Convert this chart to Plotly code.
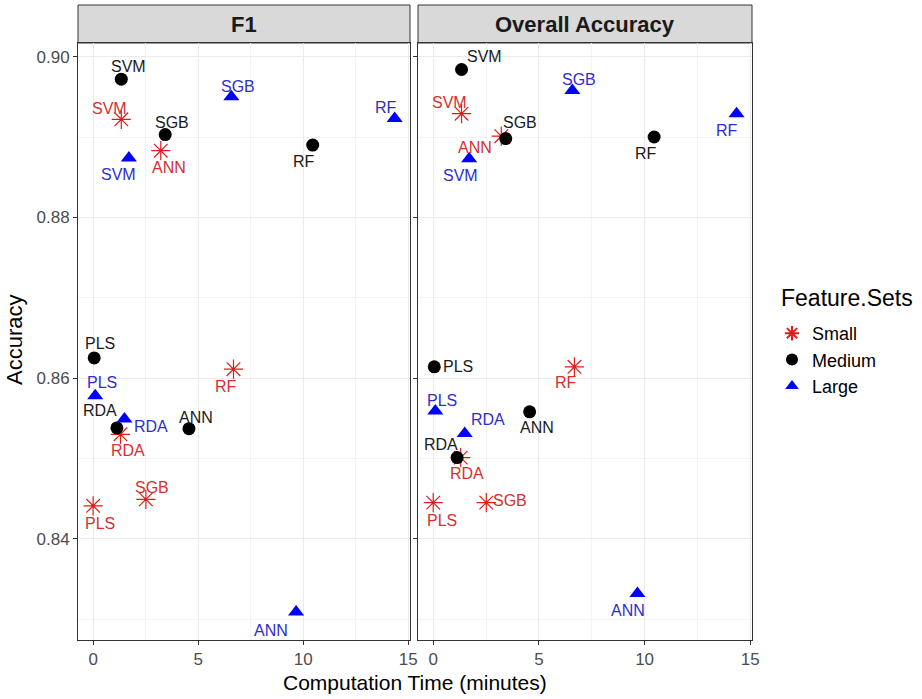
import plotly.graph_objects as go

# ---------------- data ----------------
models = ["PLS", "RDA", "ANN", "SVM", "SGB", "RF"]
feature_sets = ["Small", "Medium", "Large"]
panels = ["F1", "Overall Accuracy"]

time_small = [0.0, 1.30, 3.22, 1.34, 2.51, 6.68]
time_medium = [0.05, 1.13, 4.56, 1.34, 3.43, 10.45]
time_large = [0.10, 1.49, 9.66, 1.70, 6.58, 14.35]

f1_small = [0.8441, 0.8530, 0.8883, 0.8922, 0.8449, 0.8611]
f1_medium = [0.8625, 0.8538, 0.8537, 0.8972, 0.8903, 0.8890]
f1_large = [0.8578, 0.8549, 0.8309, 0.8874, 0.8950, 0.8923]

oa_small = [0.8445, 0.8501, 0.8901, 0.8929, 0.8445, 0.8614]
oa_medium = [0.8614, 0.8501, 0.8558, 0.8984, 0.8898, 0.8900]
oa_large = [0.8559, 0.8531, 0.8332, 0.8873, 0.8958, 0.8929]

x_ticks = [0, 5, 10, 15]
y_ticks = [0.84, 0.86, 0.88, 0.90]

# ---------------- styles ----------------
marker_style = {
    "Small": dict(symbol="asterisk-open", size=16, color="#E01B1B",
                  line=dict(color="#E01B1B", width=1.2)),
    "Medium": dict(symbol="circle", size=13, color="black"),
    "Large": dict(symbol="triangle-up", size=14, color="#0000FF"),
}
text_color = {"Small": "#D43030", "Medium": "#1A1A1A", "Large": "#2E2ECC"}

# label offsets (pixels: dx right, dy down) per panel / set / model
label_offsets = {
    "F1": {
        "Small": [(7, 18), (8, 16), (8, 17), (-12, -11), (6, -12), (-7, 17)],
        "Medium": [(6, -14), (-17, -17), (7, -11), (7, -13), (7, -12), (-9, 16)],
        "Large": [(7, -13), (27, 7), (-25, 19), (-10, 17), (7, -10), (-9, -11)],
    },
    "Overall Accuracy": {
        "Small": [(9, 18), (6, 16), (-26, 11), (-12, -11), (24, -2), (-8, 16)],
        "Medium": [(24, 0), (-16, -13), (7, 16), (23, -13), (14, -16), (-8, 16)],
        "Large": [(7, -11), (23, -14), (-9, 17), (-9, 17), (7, -11), (-10, 17)],
    },
}

times = {"Small": time_small, "Medium": time_medium, "Large": time_large}
values = {
    "F1": {"Small": f1_small, "Medium": f1_medium, "Large": f1_large},
    "Overall Accuracy": {"Small": oa_small, "Medium": oa_medium, "Large": oa_large},
}

FONT = "Liberation Sans, Arial, sans-serif"
W, H = 922, 699
ML, MR, MT, MB = 78, 170, 5, 59
plot_w = W - ML - MR
plot_h = H - MT - MB
strip_h = 38
panel_top = 1 - strip_h / plot_h
gap = 8

left_dom = [0, 332 / plot_w]
right_dom = [(332 + gap) / plot_w, 1]


def px_x(px):
    return (px - ML) / plot_w


def px_y(py):
    return ((H - MB) - py) / plot_h


fig = go.Figure()
axes = [("x", "y"), ("x2", "y2")]
for pi, panel in enumerate(panels):
    xa, ya = axes[pi]
    for fs in feature_sets:
        fig.add_trace(go.Scatter(
            x=times[fs], y=values[panel][fs], mode="markers",
            marker=marker_style[fs], name=fs, legendgroup=fs,
            showlegend=(pi == 0), xaxis=xa, yaxis=ya,
            text=models, hovertemplate="%{text}: %{x}, %{y}<extra>" + fs + "</extra>",
        ))
        for mi, m in enumerate(models):
            dx, dy = label_offsets[panel][fs][mi]
            fig.add_annotation(
                x=times[fs][mi], y=values[panel][fs][mi], xref=xa, yref=ya,
                text=m, showarrow=False, xshift=dx, yshift=-dy,
                xanchor="center", yanchor="middle",
                font=dict(family=FONT, size=16, color=text_color[fs]),
            )

xrange = [-0.72, 15.08]
yrange = [0.8274, 0.9017]
common_x = dict(range=xrange, tickvals=x_ticks, ticktext=[str(v) for v in x_ticks],
                showgrid=True, gridcolor="#EBEBEB", gridwidth=1,
                minor=dict(tickvals=[2.5, 7.5, 12.5], showgrid=True, gridcolor="#F4F4F4", gridwidth=1, ticks=""),
                zeroline=False, showline=True, mirror=True, linecolor="#333333", linewidth=1,
                ticks="outside", ticklen=4, tickcolor="#333333",
                tickfont=dict(family=FONT, size=17, color="#4D4D4D"))
common_y = dict(range=yrange, tickvals=y_ticks, ticktext=["0.84", "0.86", "0.88", "0.90"],
                showgrid=True, gridcolor="#EBEBEB", gridwidth=1,
                minor=dict(tickvals=[0.83, 0.85, 0.87, 0.89], showgrid=True, gridcolor="#F4F4F4", gridwidth=1, ticks=""),
                zeroline=False, showline=True, mirror=True, linecolor="#333333", linewidth=1,
                ticks="outside", ticklen=4, tickcolor="#333333",
                tickfont=dict(family=FONT, size=17, color="#4D4D4D"),
                domain=[0, panel_top])

fig.update_layout(
    width=W, height=H, margin=dict(l=ML, r=MR, t=MT, b=MB),
    paper_bgcolor="white", plot_bgcolor="white",
    xaxis=dict(domain=left_dom, anchor="y", **common_x),
    xaxis2=dict(domain=right_dom, anchor="y2", **common_x),
    yaxis=dict(anchor="x", **common_y),
    yaxis2=dict(anchor="x2", showticklabels=False, **common_y),
    legend=dict(x=px_x(772), y=px_y(360), xanchor="left", yanchor="middle",
                font=dict(family=FONT, size=18, color="black"),
                itemsizing="constant", tracegroupgap=0, bgcolor="rgba(0,0,0,0)"),
    showlegend=True,
)

# legend title
fig.add_annotation(xref="paper", yref="paper", x=px_x(779), y=px_y(298),
                   text="Feature.Sets", showarrow=False, xanchor="left", yanchor="middle",
                   font=dict(family=FONT, size=23, color="black"))

# strips
for dom, title in [(left_dom, panels[0]), (right_dom, panels[1])]:
    fig.add_shape(type="rect", xref="paper", yref="paper",
                  x0=dom[0], x1=dom[1], y0=panel_top, y1=1,
                  fillcolor="#D9D9D9", line=dict(color="#333333", width=1), layer="below")
    fig.add_annotation(xref="paper", yref="paper", x=(dom[0] + dom[1]) / 2,
                       y=(panel_top + 1) / 2, text="<b>" + title + "</b>", showarrow=False,
                       font=dict(family=FONT, size=22, color="#1A1A1A"),
                       xanchor="center", yanchor="middle")

# axis titles
fig.add_annotation(xref="paper", yref="paper", x=px_x(415), y=px_y(682),
                   text="Computation Time (minutes)", showarrow=False,
                   font=dict(family=FONT, size=21, color="black"), xanchor="center", yanchor="middle")
fig.add_annotation(xref="paper", yref="paper", x=px_x(15), y=px_y(340),
                   text="Accuracy", showarrow=False, textangle=-90,
                   font=dict(family=FONT, size=22, color="black"), xanchor="center", yanchor="middle")

fig.write_html("out.html")
